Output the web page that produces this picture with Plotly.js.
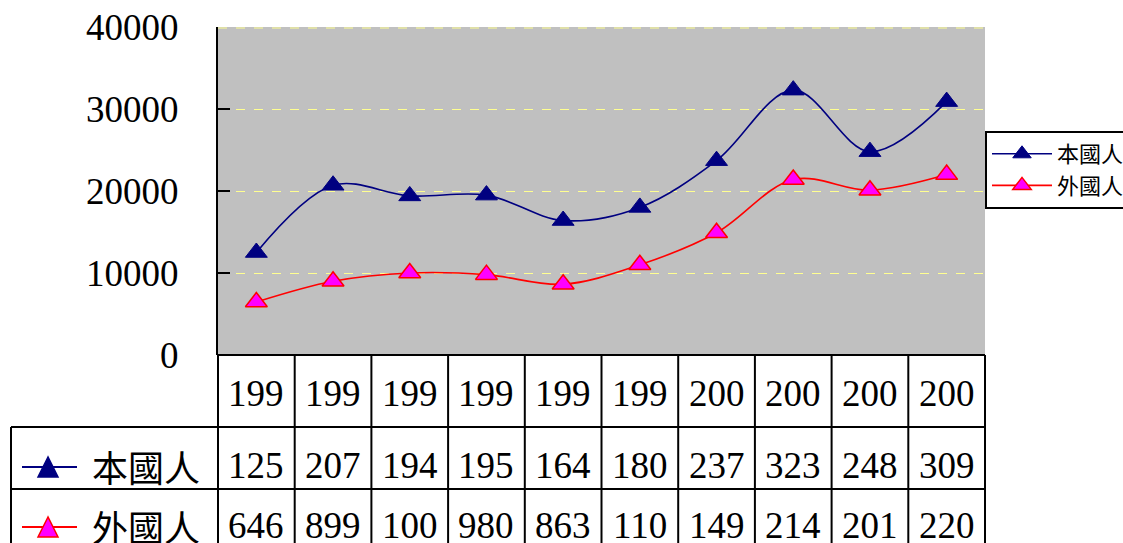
<!DOCTYPE html>
<html><head><meta charset="utf-8">
<script src="https://cdn.plot.ly/plotly-3.0.1.min.js"></script>
<style>html,body{margin:0;padding:0;background:#fff;}#chart{width:1123px;height:543px;}</style>
</head><body><div id="chart"></div>
<script>
const categoryLabels = ["199","199","199","199","199","199","200","200","200","200"];
const seriesNames = ["本國人","外國人"];
const domestic = [12500,20700,19400,19500,16400,18000,23700,32300,24800,30900];
const foreign = [6460,8990,10000,9800,8630,11000,14900,21400,20100,22000];

const W=1123,H=543, L=218, R=985, T=27, B=355;
const px = x => (x-L)/(R-L);
const py = y => (B-y)/(B-T);
const idx = categoryLabels.map((_,i)=>i);
const colW = (R-L)/categoryLabels.length;

const digitFont = {family:"'Liberation Serif', 'DejaVu Serif Condensed', 'DejaVu Serif', serif", size:37, color:"#000"};
const cjkFont = {family:"'Noto Sans CJK TC'", size:36, color:"#000"};

const traces = [
 {x:idx, y:domestic, name:seriesNames[0], type:"scatter", mode:"lines+markers",
  line:{color:"#000080", width:1.6, shape:"spline", smoothing:1},
  marker:{symbol:"triangle-up", size:19, color:"#000080", line:{color:"#000080", width:1}}},
 {x:idx, y:foreign, name:seriesNames[1], type:"scatter", mode:"lines+markers",
  line:{color:"#ff0000", width:1.6, shape:"spline", smoothing:1},
  marker:{symbol:"triangle-up", size:19, color:"#ff00ff", line:{color:"#ff0000", width:1.5}}}
];

const shapes = [];
const annotations = [];
const lineStyle = {color:"#000", width:2};
function hline(y,x0,x1){shapes.push({type:"line",xref:"paper",yref:"paper",x0:px(x0),x1:px(x1),y0:py(y),y1:py(y),line:lineStyle});}
function vline(x,y0,y1){shapes.push({type:"line",xref:"paper",yref:"paper",x0:px(x),x1:px(x),y0:py(y0),y1:py(y1),line:lineStyle});}

const gridCol = "#ffff90";
shapes.push({type:"line",xref:"paper",yref:"paper",x0:0,x1:1,y0:py(28),y1:py(28),line:{color:gridCol,width:1,dash:"dash"}});

// table grid
hline(355,L,R); hline(427,11,R); hline(489,11,R);
for(let k=0;k<=categoryLabels.length;k++){ vline(L+k*colW,355,560); }
vline(11,427,560);

// header + values
const rows=[{labels:categoryLabels, y:393},
            {labels:domestic.map(v=>String(v).slice(0,3)), y:465},
            {labels:foreign.map(v=>String(v).slice(0,3)), y:525}];
rows.forEach(r=>{
  r.labels.forEach((t,i)=>{
    annotations.push({xref:"paper",yref:"paper",x:px(L+(i+0.5)*colW),y:py(r.y),text:t,showarrow:false,
      xanchor:"center",yanchor:"middle",font:digitFont});
  });
});

// legend keys inside table
const keyDefs=[{y:467,line:"#000080",fill:"#000080",edge:"#000080",name:seriesNames[0]},
               {y:527,line:"#ff0000",fill:"#ff00ff",edge:"#ff0000",name:seriesNames[1]}];
keyDefs.forEach(k=>{
  shapes.push({type:"line",xref:"paper",yref:"paper",x0:px(22),x1:px(77),y0:py(k.y),y1:py(k.y),line:{color:k.line,width:2}});
  const a=`M ${px(48)} ${py(k.y-10)} L ${px(38)} ${py(k.y+10)} L ${px(58)} ${py(k.y+10)} Z`;
  shapes.push({type:"path",xref:"paper",yref:"paper",path:a,fillcolor:k.fill,line:{color:k.edge,width:1.5}});
  annotations.push({xref:"paper",yref:"paper",x:px(146),y:py(k.y-1),text:k.name,showarrow:false,
    xanchor:"center",yanchor:"middle",font:cjkFont});
});

const layout = {
  width:W, height:H,
  margin:{l:L, r:W-R, t:T, b:H-B, autoexpand:false},
  paper_bgcolor:"#fff", plot_bgcolor:"#c0c0c0",
  showlegend:true,
  legend:{x:1, xanchor:"left", y:py(131), yanchor:"top", bgcolor:"#fff", bordercolor:"#000", borderwidth:2,
    font:{family:"'Noto Sans CJK TC'", size:22, color:"#000"}, itemwidth:60, tracegroupgap:0},
  xaxis:{range:[-0.5,9.5], showticklabels:false, showgrid:false, zeroline:false, ticks:"", showline:false, fixedrange:true},
  yaxis:{range:[0,40000], tickvals:[0,10000,20000,30000,40000], ticktext:["0","10000","20000","30000","40000"],
    showgrid:true, gridcolor:gridCol, griddash:"dash", gridwidth:1, zeroline:false,
    showline:true, linecolor:"#000", linewidth:2, ticks:"inside", ticklen:12, tickwidth:2, tickcolor:"#000",
    tickfont:digitFont, ticklabelstandoff:30},
  shapes:shapes, annotations:annotations
};
Plotly.newPlot("chart", traces, layout, {staticPlot:true, displayModeBar:false});
</script></body></html>
